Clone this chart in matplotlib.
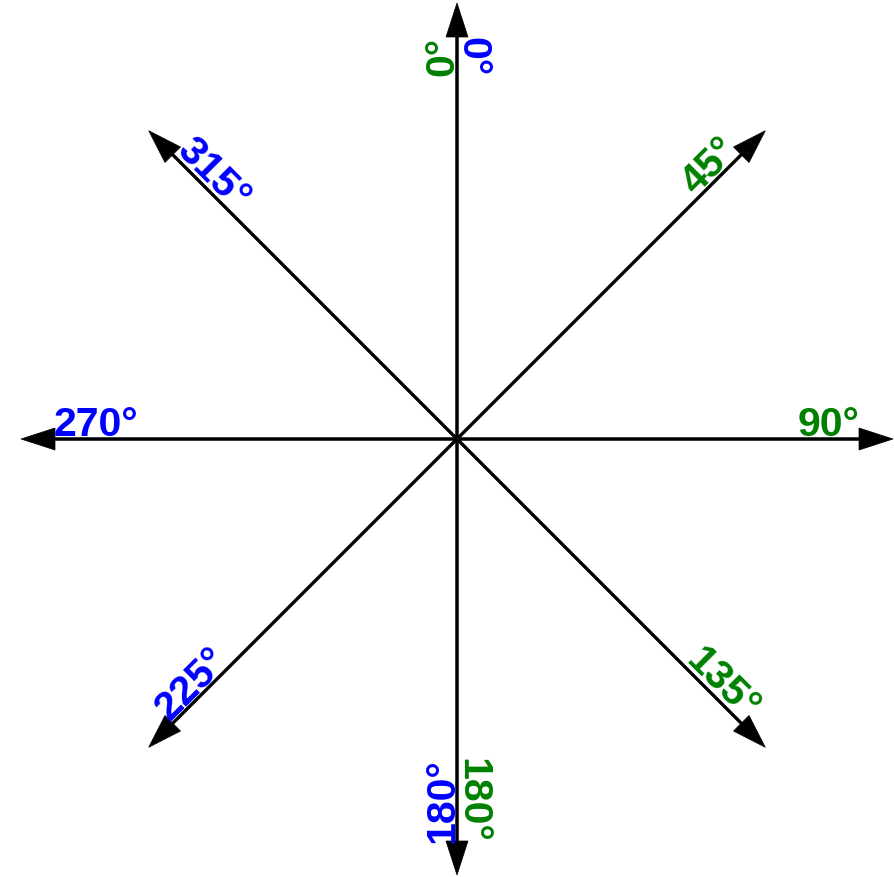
import numpy as np
import matplotlib
matplotlib.use("Agg")
import matplotlib.pyplot as plt

# Data
arrow_angles = [0, 45, 90, 135, 180, 225, 270, 315]   # compass bearings
green_angles = [0, 45, 90, 135, 180]
green_labels = ["0°", "45°", "90°", "135°", "180°"]
blue_angles = [0, 180, 225, 270, 315]
blue_labels = ["0°", "180°", "225°", "270°", "315°"]

W, H = 895, 878
cx, cy = 457, 440
fig = plt.figure(figsize=(W / 100, H / 100), dpi=100)
ax = fig.add_axes([0, 0, 1, 1])
ax.set_xlim(-cx, W - cx)
ax.set_ylim(-(H - cy), cy)
ax.axis("off")

L = 436
for a in arrow_angles:
    phi = np.deg2rad(90 - a)
    ax.arrow(0, 0, L * np.cos(phi), L * np.sin(phi), width=2.6, head_width=22,
             head_length=34, length_includes_head=True, color="black", lw=0.5)

d = 403
p = 4.0
font = dict(family="Liberation Sans", weight="bold", size=29.5)


def place(angle, text, color, flip):
    phi = 90 - angle
    r = phi + 180 if flip else phi
    r = (r + 180) % 360 - 180
    rr = np.deg2rad(r)
    u = np.array([-np.sin(rr), np.cos(rr)])
    ph = np.deg2rad(phi)
    pos = d * np.array([np.cos(ph), np.sin(ph)]) + p * u
    ax.text(pos[0], pos[1], text, color=color, rotation=r,
            rotation_mode="anchor", ha="left" if flip else "right",
            va="baseline", **font)


for a, t in zip(green_angles, green_labels):
    place(a, t, "#008000", False)
for a, t in zip(blue_angles, blue_labels):
    place(a, t, "#0000FF", True)

fig.savefig("out.png", dpi=100, facecolor="white")
